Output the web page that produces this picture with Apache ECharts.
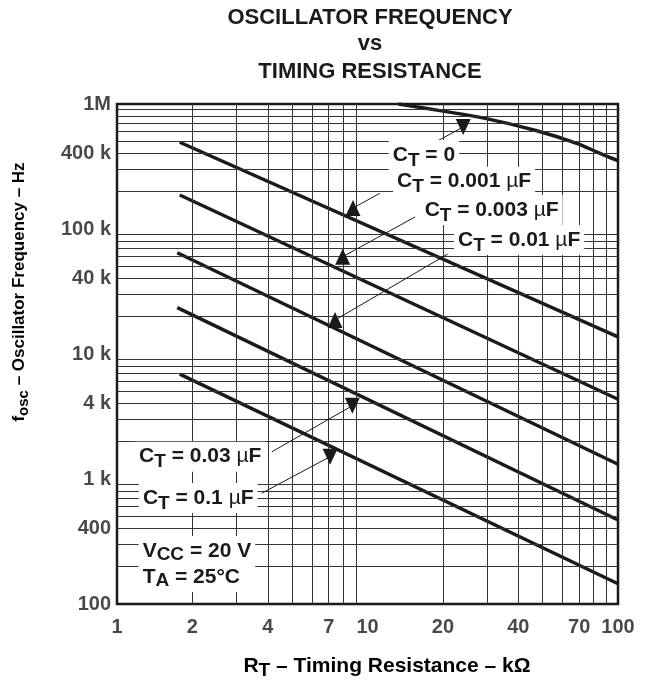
<!DOCTYPE html>
<html><head><meta charset="utf-8">
<script src="https://cdn.jsdelivr.net/npm/echarts@6/dist/echarts.min.js"></script>
<style>html,body{margin:0;padding:0;background:#fff}#c{width:646px;height:681px}</style>
</head><body><div id="c"></div>
<script>
// ---- data ----
const xTickValues = [1, 2, 4, 7, 10, 20, 40, 70, 100];
const xTickText = ['1', '2', '4', '7', '10', '20', '40', '70', '100'];
const yTickValues = [100, 400, 1000, 4000, 10000, 40000, 100000, 400000, 1000000];
const yTickText = ['100', '400', '1 k', '4 k', '10 k', '40 k', '100 k', '400 k', '1M'];
const xGridValues = [2, 3, 4, 5, 6, 7, 8, 9, 20, 30, 40, 50, 60, 70, 80, 90];
const yGridValues = [200, 300, 400, 500, 600, 700, 800, 900,
  2000, 3000, 4000, 5000, 6000, 7000, 8000, 9000,
  20000, 30000, 40000, 50000, 60000, 70000, 80000, 90000,
  200000, 300000, 400000, 500000, 600000, 700000, 800000, 900000];

const curveCT0 = [[13.3, 1000000], [19.5, 884000], [29.5, 768000], [47.4, 611000], [68.4, 485000], [84.8, 403000], [100, 352000]];
const curveCT0001 = [[1.78, 494000], [100, 13700]];
const curveCT0003 = [[1.78, 187000], [100, 4340]];
const curveCT001 = [[1.74, 64600], [100, 1310]];
const curveCT003 = [[1.74, 23500], [100, 470]];
const curveCT01 = [[1.78, 6900], [100, 145]];

// annotation labels
const labelNames = ['0', '0.001', '0.003', '0.01', '0.03', '0.1'];
const labelAt = [[16.8, 391000], [24.3, 239000], [31.3, 142000], [40.3, 81700], [2.15, 1510], [2.11, 705]];
const leaderFrom = [[18.77, 499000], [11.2, 193000], [15.5, 125000], [20.9, 63000], [4.15, 1650], [3.78, 769]];
const arrowAt = [[24.1, 655000], [8.75, 147000], [7.96, 60000], [7.42, 18700], [8.7, 3860], [7.09, 1510]];
const arrowDown = [true, false, false, false, true, true];
const condAt = [1.22, 209];

// ---- chart ----
const FONT = "'Liberation Sans', Arial, Helvetica, sans-serif";
const chart = echarts.init(document.getElementById('c'), null, {renderer: 'canvas'});
const INK = '#1a1a1a';

const base = {fontFamily: FONT, fontWeight: 'bold', fontSize: 21, color: INK};
const rich = {
  b: Object.assign({}, base, {lineHeight: 22}),
  s: Object.assign({}, base, {fontSize: 19, padding: [11, 0, 0, 0]}),
  m: Object.assign({}, base, {fontWeight: 'normal'})
};

function ctText(v) {
  return v === '0' ? '{b|C}{s|T}{b| = 0}' : '{b|C}{s|T}{b| = ' + v + ' }{m|µ}{b|F}';
}

const curveSeries = [curveCT0, curveCT0001, curveCT0003, curveCT001, curveCT003, curveCT01].map((d, i) => ({
  type: 'line', data: d, showSymbol: false, symbol: 'none', smooth: i === 0 ? 0.35 : false,
  lineStyle: {color: INK, width: 3.4}, z: 3, silent: true, animation: false
}));

const option = {
  animation: false,
  backgroundColor: '#fff',
  grid: {left: 117, top: 104, width: 501, height: 500, show: true, borderColor: INK, borderWidth: 2.5, backgroundColor: 'transparent'},
  xAxis: {type: 'log', logBase: 10, min: 1, max: 100, axisLine: {show: false}, axisTick: {show: false}, splitLine: {show: false}, axisLabel: {show: false}},
  yAxis: {type: 'log', logBase: 10, min: 100, max: 1000000, axisLine: {show: false}, axisTick: {show: false}, splitLine: {show: false}, axisLabel: {show: false}},
  series: [
    {
      type: 'line', data: [], z: 1, silent: true,
      markLine: {
        silent: true, symbol: 'none', animation: false, label: {show: false},
        lineStyle: {color: '#333', width: 1, type: 'solid'},
        data: xGridValues.map(v => ({xAxis: v})).concat(yGridValues.map(v => ({yAxis: v})))
      }
    },
    ...curveSeries,
    {
      type: 'line', data: [], z: 4, silent: true,
      markLine: {
        silent: true, symbol: 'none', animation: false, label: {show: false},
        lineStyle: {color: INK, width: 1, type: 'solid'},
        data: leaderFrom.map((p, i) => [{coord: p}, {coord: arrowAt[i]}])
      },
      markPoint: {
        silent: true, animation: false, label: {show: false},
        data: arrowAt.map((p, i) => ({coord: p, symbol: 'triangle', symbolSize: [15, 16], symbolRotate: arrowDown[i] ? 180 : 0, itemStyle: {color: INK}}))
      }
    },
    {
      type: 'line', data: [], z: 6, silent: true,
      markPoint: {
        silent: true, animation: false, symbol: 'rect', symbolSize: 1, itemStyle: {color: 'rgba(0,0,0,0)'},
        data: labelAt.map((p, i) => ({
          coord: p,
          label: {show: true, position: 'inside', formatter: ctText(labelNames[i]), rich: rich, backgroundColor: '#fff', padding: [0, 4, 0, 4]}
        })).concat([{
          coord: condAt,
          label: {show: true, position: 'inside', align: 'left',
            formatter: '{b|V}{s|CC}{b| = 20 V}\n{b|T}{s|A}{b| = 25°C}', rich: {
              b: Object.assign({}, base, {fontSize: 21, lineHeight: 20}),
              s: Object.assign({}, base, {fontSize: 19, padding: [7, 0, 0, 0]})
            }, backgroundColor: '#fff', padding: [2, 4, 2, 4]}
        }])
      }
    },
    {
      type: 'scatter', z: 6, silent: true, symbolSize: 0, clip: false,
      data: yTickValues.map((v, i) => ({value: [1, v], label: {show: true, position: 'left', distance: 6, formatter: yTickText[i], fontFamily: FONT, fontWeight: 'bold', fontSize: 20, color: INK}}))
    },
    {
      type: 'scatter', z: 6, silent: true, symbolSize: 0, clip: false,
      data: xTickValues.map((v, i) => ({value: [v, 100], label: {show: true, position: 'bottom', distance: 13, formatter: xTickText[i], fontFamily: FONT, fontWeight: 'bold', fontSize: 20, color: INK}}))
    }
  ],
  graphic: [
    {type: 'text', x: 370, y: 18, style: {text: 'OSCILLATOR FREQUENCY', font: "bold 22px " + FONT, fill: INK, align: 'center', verticalAlign: 'middle'}},
    {type: 'text', x: 370, y: 44, style: {text: 'vs', font: "bold 22px " + FONT, fill: INK, align: 'center', verticalAlign: 'middle'}},
    {type: 'text', x: 370, y: 72, style: {text: 'TIMING RESISTANCE', font: "bold 22px " + FONT, fill: INK, align: 'center', verticalAlign: 'middle'}},
    {type: 'text', x: 387, y: 666, style: {
      text: '{b|R}{s|T}{b| – Timing Resistance – kΩ}', align: 'center', verticalAlign: 'middle',
      rich: {b: Object.assign({}, base, {fontSize: 21, lineHeight: 22}), s: Object.assign({}, base, {fontSize: 19, padding: [10, 0, 0, 0]})}
    }},
    {type: 'text', x: 19, y: 292, rotation: Math.PI / 2, style: {
      text: '{b|f}{s|osc}{b| – Oscillator Frequency – Hz}', align: 'center', verticalAlign: 'middle',
      rich: {b: Object.assign({}, base, {fontSize: 17, lineHeight: 20}), s: Object.assign({}, base, {fontSize: 15, padding: [9, 0, 0, 0]})}
    }}
  ]
};
chart.setOption(option);
</script>
</body></html>
